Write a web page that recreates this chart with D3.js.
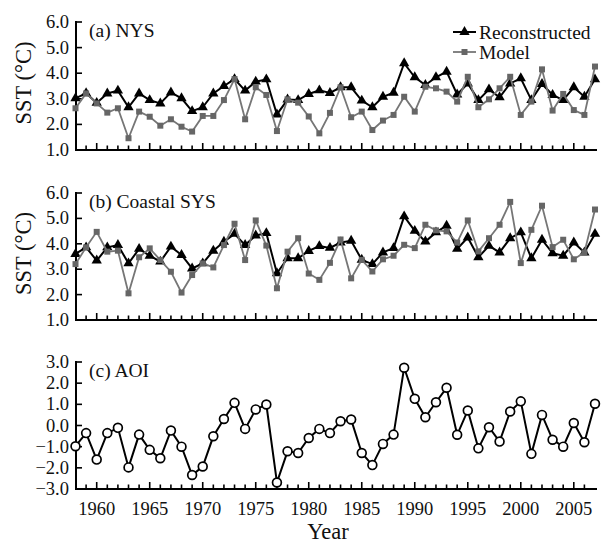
<!DOCTYPE html>
<html>
<head>
<meta charset="utf-8">
<script src="https://cdn.jsdelivr.net/npm/d3@7"></script>
<style>
  html, body { margin: 0; padding: 0; background: #fff; }
  svg { display: block; font-family: "Liberation Serif", "Times New Roman", serif; }
</style>
</head>
<body>
<svg id="chart" width="601" height="543"></svg>
<script>
// Years 1958–2007
const years = [1958,1959,1960,1961,1962,1963,1964,1965,1966,1967,1968,1969,1970,1971,1972,1973,1974,1975,1976,1977,1978,1979,1980,1981,1982,1983,1984,1985,1986,1987,1988,1989,1990,1991,1992,1993,1994,1995,1996,1997,1998,1999,2000,2001,2002,2003,2004,2005,2006,2007];

// (a) NYS winter SST
const nysReconstructed = [3.02,3.22,2.84,3.21,3.32,2.67,3.21,2.95,2.82,3.25,3.02,2.52,2.67,3.21,3.5,3.77,3.32,3.67,3.76,2.39,2.97,2.95,3.19,3.33,3.23,3.45,3.45,2.93,2.67,3.08,3.24,4.39,3.84,3.54,3.84,4.06,3.17,3.6,2.95,3.37,3.06,3.6,3.8,2.95,3.58,3.15,2.95,3.45,3.08,3.76];
const nysModel = [2.63,3.21,2.82,2.46,2.63,1.46,2.5,2.3,1.95,2.2,1.91,1.72,2.33,2.33,2.95,3.77,2.2,3.45,3.15,1.74,2.98,2.85,2.31,1.65,2.45,3.45,2.28,2.5,1.78,2.15,2.37,3.08,2.5,3.47,3.41,3.28,2.89,3.86,2.67,2.98,3.41,3.86,2.37,2.89,4.15,2.54,3.19,2.56,2.37,4.26];

// (b) Coastal SYS winter SST
const sysReconstructed = [3.6,3.86,3.34,3.86,3.95,3.23,3.8,3.53,3.3,3.89,3.56,3.03,3.23,3.73,4.08,4.39,3.95,4.33,4.42,2.84,3.43,3.43,3.72,3.91,3.84,4.05,4.12,3.37,3.2,3.66,3.83,5.08,4.51,4.09,4.45,4.71,3.8,4.25,3.47,3.92,3.66,4.22,4.45,3.43,4.16,3.63,3.53,4.05,3.66,4.39];
const sysModel = [3.2,3.86,4.47,3.69,3.73,2.05,3.47,3.82,3.36,2.9,2.08,2.77,3.23,3.07,3.95,4.79,3.36,4.92,3.93,2.25,3.69,4.22,2.83,2.58,3.25,4.17,2.64,3.37,2.91,3.39,3.53,3.96,3.83,4.75,4.53,4.49,4.05,4.92,3.7,4.22,4.75,5.65,3.24,4.55,5.5,3.87,4.16,3.39,3.66,5.35];

// (c) Arctic Oscillation index
const aoi = [-0.98,-0.36,-1.61,-0.36,-0.11,-1.98,-0.43,-1.15,-1.55,-0.24,-1.0,-2.34,-1.94,-0.51,0.31,1.07,-0.16,0.76,0.99,-2.69,-1.22,-1.3,-0.59,-0.16,-0.36,0.2,0.28,-1.3,-1.87,-0.87,-0.43,2.73,1.26,0.39,1.1,1.78,-0.44,0.71,-1.08,-0.08,-0.76,0.66,1.14,-1.34,0.5,-0.67,-1.0,0.12,-0.79,1.03];

const sstTicks = [1, 2, 3, 4, 5, 6];
const aoiTicks = [-3, -2, -1, 0, 1, 2, 3];
const yearLabels = [1960, 1965, 1970, 1975, 1980, 1985, 1990, 1995, 2000, 2005];
const seriesNames = ["Reconstructed", "Model"];

const svg = d3.select("#chart");
const left = 76, right = 596;
const x = d3.scaleLinear().domain([1958, 2007]).range([75.5, 595]);

const grayLine = "#767676", grayMark = "#666";

function panel(top, bottom, domain, ticks, label, showYears) {
  const y = d3.scaleLinear().domain(domain).range([bottom, top]);
  const g = svg.append("g");

  // y axis: line, inward ticks, labels
  g.append("line").attr("x1", left).attr("x2", left).attr("y1", top - 1).attr("y2", bottom)
    .attr("stroke", "#000").attr("stroke-width", 2);
  g.selectAll(".ytick").data(ticks).join("line")
    .attr("x1", left).attr("x2", left + 6)
    .attr("y1", d => y(d)).attr("y2", d => y(d))
    .attr("stroke", "#000").attr("stroke-width", 1.6);
  g.selectAll(".ylab").data(ticks).join("text")
    .attr("x", left - 7).attr("y", d => y(d))
    .attr("text-anchor", "end").attr("dominant-baseline", "central")
    .attr("font-size", 18.5).attr("fill", "#111")
    .text(d => d3.format(".1f")(d));

  // x axis: line and inward ticks each year, longer every five years
  g.append("line").attr("x1", left - 1).attr("x2", right + 1).attr("y1", bottom).attr("y2", bottom)
    .attr("stroke", "#000").attr("stroke-width", 2);
  g.selectAll(".xtick").data(years.filter(yr => yr > 1958 && yr < 2007)).join("line")
    .attr("x1", d => x(d)).attr("x2", d => x(d))
    .attr("y1", bottom).attr("y2", d => bottom - (d % 5 === 0 ? 7 : 4.5))
    .attr("stroke", "#000").attr("stroke-width", 1.6);

  if (showYears) {
    g.selectAll(".xlab").data(yearLabels).join("text")
      .attr("x", d => x(d)).attr("y", bottom + 26)
      .attr("text-anchor", "middle").attr("font-size", 18.5).attr("fill", "#111")
      .text(d => d);
  }

  g.append("text").attr("x", 89).attr("y", top + 15)
    .attr("font-size", 19.5).attr("fill", "#111").text(label);
  return { g, y };
}

function sstTitle(top, bottom) {
  svg.append("text")
    .attr("transform", `translate(31,${(top + bottom) / 2 - 3}) rotate(-90)`)
    .attr("text-anchor", "middle").attr("font-size", 22.5).attr("fill", "#111")
    .text("SST (°C)");
}

const tri = d3.symbol().type(d3.symbolTriangle).size(46);
const sq = d3.symbol().type(d3.symbolSquare).size(36);

function sstSeries(p, recon, model) {
  const rows = years.map((yr, i) => ({ yr, r: recon[i], m: model[i] }));
  const lineR = d3.line().x(d => x(d.yr)).y(d => p.y(d.r));
  const lineM = d3.line().x(d => x(d.yr)).y(d => p.y(d.m));

  p.g.append("path").datum(rows).attr("d", lineR)
    .attr("fill", "none").attr("stroke", "#000").attr("stroke-width", 2);
  p.g.selectAll(".tri").data(rows).join("path")
    .attr("d", tri).attr("transform", d => `translate(${x(d.yr)},${p.y(d.r)})`)
    .attr("fill", "#000");

  p.g.append("path").datum(rows).attr("d", lineM)
    .attr("fill", "none").attr("stroke", grayLine).attr("stroke-width", 1.8);
  p.g.selectAll(".sq").data(rows).join("path")
    .attr("d", sq).attr("transform", d => `translate(${x(d.yr)},${p.y(d.m)})`)
    .attr("fill", grayMark);
}

// (a)
const pa = panel(22, 150, [1, 6], sstTicks, "(a) NYS", false);
sstSeries(pa, nysReconstructed, nysModel);
sstTitle(22, 150);

// legend
const lg = svg.append("g");
[[0, "#000", tri], [1, grayLine, sq]].forEach(([i, col, sym]) => {
  const ly = 32 + i * 20;
  lg.append("line").attr("x1", 453).attr("x2", 476).attr("y1", ly).attr("y2", ly)
    .attr("stroke", col).attr("stroke-width", i === 0 ? 2 : 1.8);
  lg.append("path").attr("d", sym).attr("transform", `translate(464.5,${ly})`)
    .attr("fill", i === 0 ? "#000" : grayMark);
  lg.append("text").attr("x", 479).attr("y", ly).attr("dominant-baseline", "central")
    .attr("font-size", 19.5).attr("fill", "#111").text(seriesNames[i]);
});

// (b)
const pb = panel(193, 320, [1, 6], sstTicks, "(b) Coastal SYS", false);
sstSeries(pb, sysReconstructed, sysModel);
sstTitle(193, 320);

// (c)
const pc = panel(362, 489, [-3, 3], aoiTicks, "(c) AOI", true);
const aoiRows = years.map((yr, i) => ({ yr, v: aoi[i] }));
pc.g.append("path").datum(aoiRows)
  .attr("d", d3.line().x(d => x(d.yr)).y(d => pc.y(d.v)))
  .attr("fill", "none").attr("stroke", "#000").attr("stroke-width", 2);
pc.g.selectAll(".dot").data(aoiRows).join("circle")
  .attr("cx", d => x(d.yr)).attr("cy", d => pc.y(d.v)).attr("r", 4.4)
  .attr("fill", "#fff").attr("stroke", "#000").attr("stroke-width", 1.7);

svg.append("text").attr("x", 328).attr("y", 539).attr("text-anchor", "middle")
  .attr("font-size", 22.5).attr("fill", "#111").text("Year");
</script>
</body>
</html>
